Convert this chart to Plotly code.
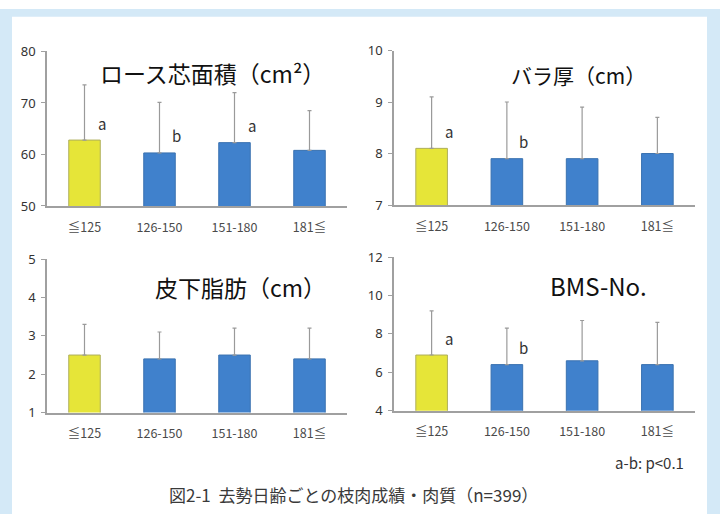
import plotly.graph_objects as go

W, H = 720, 523

categories = ["≦125", "126-150", "151-180", "181≦"]

loin_mean = [62.8, 60.3, 62.3, 60.8]
loin_sd = [10.7, 9.8, 9.7, 7.7]
loin_sig = ["a", "b", "a", ""]

rib_mean = [8.1, 7.9, 7.9, 8.0]
rib_sd = [1.0, 1.1, 1.0, 0.7]
rib_sig = ["a", "b", "", ""]

fat_mean = [2.5, 2.4, 2.5, 2.4]
fat_sd = [0.8, 0.7, 0.7, 0.8]
fat_sig = ["", "", "", ""]

bms_mean = [6.9, 6.4, 6.6, 6.4]
bms_sd = [2.3, 1.9, 2.1, 2.2]
bms_sig = ["a", "b", "", ""]

bar_colors = ["#e6e538", "#4081cc", "#4081cc", "#4081cc"]
line_colors = ["#aeae5c", "#3a72b0", "#3a72b0", "#3a72b0"]

panels = [
    dict(title="ロース芯面積（cm²）", mean=loin_mean, sd=loin_sd, sig=loin_sig,
         yr=[50, 80], dt=10, box=(47, 347, 44, 204), tpos=(212, 66), fs=23),
    dict(title="バラ厚（cm）", mean=rib_mean, sd=rib_sd, sig=rib_sig,
         yr=[7, 10], dt=1, box=(394, 695, 43, 203), tpos=(578, 68), fs=21),
    dict(title="皮下脂肪（cm）", mean=fat_mean, sd=fat_sd, sig=fat_sig,
         yr=[1, 5], dt=1, box=(47, 347, 259, 418), tpos=(241, 288), fs=23),
    dict(title="BMS-No.", mean=bms_mean, sd=bms_sd, sig=bms_sig,
         yr=[4, 12], dt=2, box=(394, 695, 257, 416), tpos=(598, 286), fs=24),
]

FONT = "Noto Sans CJK JP"
BORDER = "#d4e9f7"
fig = go.Figure()
annotations = []

for i, p in enumerate(panels, start=1):
    xa = "x" if i == 1 else f"x{i}"
    ya = "y" if i == 1 else f"y{i}"
    xs = list(range(len(categories)))
    fig.add_trace(go.Bar(
        x=xs, y=p["mean"], xaxis=xa, yaxis=ya, width=0.42,
        marker=dict(color=bar_colors, line=dict(color=line_colors, width=1)),
        error_y=dict(type="data", array=p["sd"], arrayminus=[0] * 4,
                     symmetric=False, color="#9a9a9a", thickness=1.2, width=2),
        showlegend=False,
    ))
    x0, x1, y0, y1 = p["box"]
    lo, hi = p["yr"]
    tv = list(range(lo, hi + 1, p["dt"]))
    common_x = dict(
        domain=[x0 / W, x1 / W], range=[-0.5, 3.5],
        tickvals=xs, ticktext=categories, showgrid=False, zeroline=False,
        showline=True, linecolor="#a0a0a0", linewidth=1.5, ticks="",
        ticklabelstandoff=9,
        tickfont=dict(family=FONT, size=12.5, color="#4a4a4a"),
        anchor=ya, fixedrange=True,
    )
    common_y = dict(
        domain=[1 - y1 / H, 1 - y0 / H], range=[lo, hi],
        tickvals=tv, showgrid=False, zeroline=False,
        showline=True, linecolor="#a0a0a0", linewidth=1.5,
        ticks="outside", ticklen=4, tickcolor="#a0a0a0",
        ticklabelstandoff=3,
        tickfont=dict(family="Noto Sans", size=13, color="#333"),
        anchor=xa, fixedrange=True,
    )
    fig.update_layout({("xaxis" if i == 1 else f"xaxis{i}"): common_x,
                       ("yaxis" if i == 1 else f"yaxis{i}"): common_y})
    # significance letters beside each error bar
    for j, s in enumerate(p["sig"]):
        if s:
            annotations.append(dict(
                x=j, y=p["mean"][j], xref=xa, yref=ya, text=s, showarrow=False,
                xshift=17, yshift=17, font=dict(family=FONT, size=15, color="#333"),
            ))
    tx, ty = p["tpos"]
    annotations.append(dict(
        x=tx / W, y=1 - ty / H, xref="paper", yref="paper", text=p["title"],
        showarrow=False, xanchor="center", yanchor="middle",
        font=dict(family=FONT, size=p["fs"], color="#111"),
    ))

annotations.append(dict(
    x=686 / W, y=1 - 470 / H, xref="paper", yref="paper", text="a-b: p<0.1",
    showarrow=False, xanchor="right", yanchor="middle",
    font=dict(family=FONT, size=15, color="#333"),
))
annotations.append(dict(
    x=353 / W, y=1 - 503 / H, xref="paper", yref="paper",
    text="図2-1  去勢日齢ごとの枝肉成績・肉質（n=399）",
    showarrow=False, xanchor="center", yanchor="middle",
    font=dict(family=FONT, size=17, color="#3a3a3a"),
))

# light blue frame around the white panel (left, right and top strips)
frame = [
    dict(type="rect", xref="paper", yref="paper", x0=0, x1=12 / W, y0=0, y1=1,
         fillcolor=BORDER, line=dict(width=0), layer="below"),
    dict(type="rect", xref="paper", yref="paper", x0=707 / W, x1=1, y0=0, y1=1,
         fillcolor=BORDER, line=dict(width=0), layer="below"),
    dict(type="rect", xref="paper", yref="paper", x0=0, x1=1, y0=1 - 8 / H, y1=1,
         fillcolor=BORDER, line=dict(width=0), layer="below"),
]

fig.update_layout(
    width=W, height=H, margin=dict(l=0, r=0, t=0, b=0),
    paper_bgcolor="white", plot_bgcolor="rgba(0,0,0,0)",
    annotations=annotations, shapes=frame,
)

fig.write_html("out.html", config={"displayModeBar": False})
